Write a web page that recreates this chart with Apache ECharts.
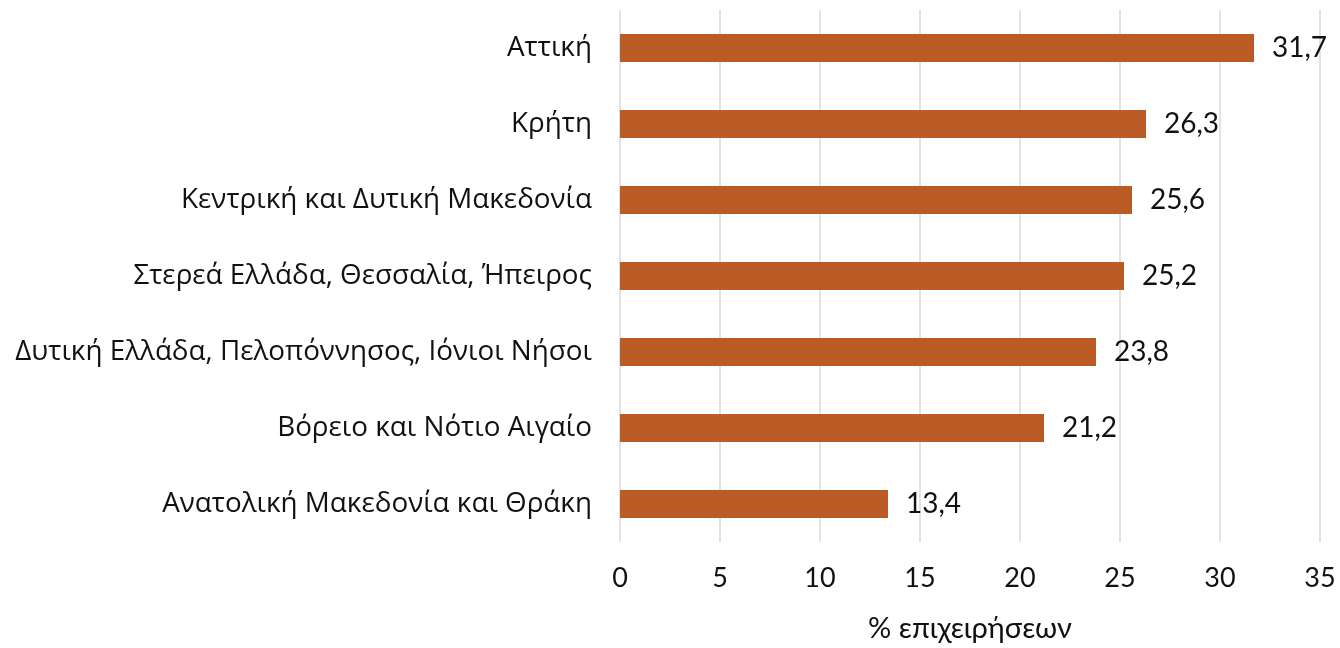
<!DOCTYPE html>
<html><head><meta charset="utf-8">
<script src="https://cdn.jsdelivr.net/npm/echarts@6/dist/echarts.min.js"></script>
<style>html,body{margin:0;padding:0;background:#fff}#c{width:1340px;height:648px}</style>
</head><body><div id="c"></div>
<script>
const categories = ["Αττική","Κρήτη","Κεντρική και Δυτική Μακεδονία","Στερεά Ελλάδα, Θεσσαλία, Ήπειρος","Δυτική Ελλάδα, Πελοπόννησος, Ιόνιοι Νήσοι","Βόρειο και Νότιο Αιγαίο","Ανατολική Μακεδονία και Θράκη"];
const values = [31.7,26.3,25.6,25.2,23.8,21.2,13.4];
const xTicks = [0,5,10,15,20,25,30,35];
const axisTitle = "% επιχειρήσεων";

const chart = echarts.init(document.getElementById('c'));
chart.setOption({
  animation:false,
  grid:{left:620,right:20,top:10,bottom:103,containLabel:false},
  xAxis:{type:'value',min:xTicks[0],max:xTicks[xTicks.length-1],interval:5,
    name:axisTitle,nameLocation:'middle',nameGap:72,
    nameTextStyle:{fontFamily:'Lato',fontSize:29,color:'#111'},
    axisLine:{show:false},axisTick:{show:false},
    axisLabel:{fontFamily:'Lato',fontSize:27,color:'#111',margin:23},
    splitLine:{lineStyle:{color:'#d9d9d9',width:1.5}}},
  yAxis:{type:'category',data:categories,inverse:true,
    axisLine:{show:false},axisTick:{show:false},
    axisLabel:{fontFamily:'Open Sans',fontSize:27.8,color:'#111',margin:28}},
  series:[{type:'bar',data:values,barWidth:28,itemStyle:{color:'#BA5B25'},
    label:{show:true,position:'right',distance:18,fontFamily:'Lato',fontSize:28,color:'#111',
      formatter:p=>String(p.value).replace('.',',')}}]
});
</script></body></html>
